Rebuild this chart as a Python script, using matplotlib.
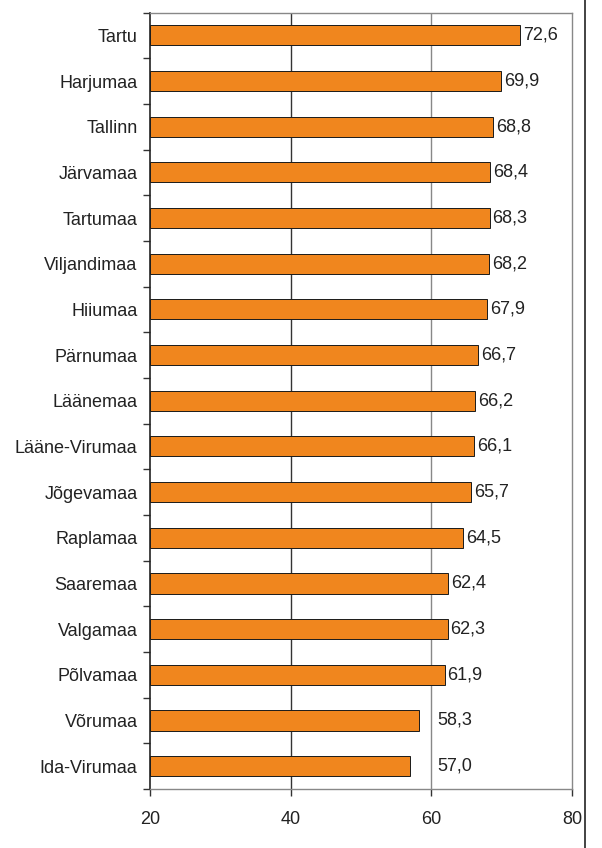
import matplotlib
matplotlib.use("Agg")
import matplotlib.pyplot as plt
from matplotlib.lines import Line2D

categories = ["Tartu", "Harjumaa", "Tallinn", "Järvamaa", "Tartumaa", "Viljandimaa",
              "Hiiumaa", "Pärnumaa", "Läänemaa", "Lääne-Virumaa", "Jõgevamaa",
              "Raplamaa", "Saaremaa", "Valgamaa", "Põlvamaa", "Võrumaa", "Ida-Virumaa"]
values = [72.6, 69.9, 68.8, 68.4, 68.3, 68.2, 67.9, 66.7, 66.2, 66.1, 65.7,
          64.5, 62.4, 62.3, 61.9, 58.3, 57.0]
xticks = [20, 40, 60, 80]

plt.rcParams['font.family'] = ['Liberation Sans', 'DejaVu Sans']
fig = plt.figure(figsize=(6.02, 8.48), dpi=100)
ax = fig.add_axes([150/602, 1 - 789/848, 422/602, (789 - 12.5)/848])

n = len(categories)
ypos = list(range(n))[::-1]
ax.barh(ypos, [v - 20 for v in values], left=20, height=0.44,
        color="#F0861E", edgecolor="#1a1a1a", linewidth=0.7, zorder=3)

for y, v in zip(ypos, values):
    xt = v + 0.4 if v >= 60 else 60.8
    ax.text(xt, y, f"{v:.1f}".replace(".", ","), va="center", ha="left",
            fontsize=13, color="#222222", zorder=4)

ax.set_xlim(20, 80)
ax.set_ylim(-0.5, n - 0.5)
ax.set_xticks(xticks)
ax.set_xticklabels([str(t) for t in xticks], fontsize=13, color="#222222")
ax.set_yticks(ypos)
ax.set_yticklabels(categories, fontsize=13, color="#222222")
ax.tick_params(axis='y', length=0, pad=9)
ax.set_yticks([i + 0.5 for i in range(-1, n)], minor=True)
ax.tick_params(axis='y', which='minor', length=5, width=1, color="#333333")
ax.tick_params(axis='x', length=5, width=1, color="#333333", pad=11)

for x, c in [(40, "#333333"), (60, "#888888")]:
    ax.axvline(x, color=c, linewidth=1, zorder=1)

ax.spines['left'].set_color("#222222")
ax.spines['left'].set_linewidth(1.2)
for s in ['top', 'right', 'bottom']:
    ax.spines[s].set_color("#888888")
    ax.spines[s].set_linewidth(1)

fig.add_artist(Line2D([585/602, 585/602], [0, 1], transform=fig.transFigure,
                      color="#222222", linewidth=1.2))

fig.savefig("out.png", dpi=100)
